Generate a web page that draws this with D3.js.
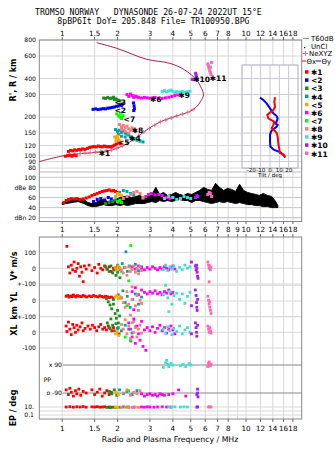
<!DOCTYPE html>
<html><head><meta charset="utf-8">
<style>body{margin:0;background:#fff}</style>
</head><body>
<svg width="335" height="451"></svg>
<script src="https://d3js.org/d3.v7.min.js"></script>
<script>
// ---- data ----
const freqTicks = [1, 1.5, 2, 3, 4, 5, 6, 7, 8, 10, 12, 14, 16, 18];
const freqTicksMid = [1, 1.5, 2, 3, 4, 5, 6, 7, 8, 9, 10, 12, 14, 16, 18];
const heightTicks = [800, 600, 400, 300, 200, 150, 120, 100, 90, 80];
const dbTicks = [100, 80, 60, 40, 20];
const dbLabels = ["100", "dBe 80", "60", "40", "dBn 20"];
const tiltTicks = [-20, -10, 0, 10, 20];

const seriesNames = ["✱1", "<2", "<3", "✱4", "<5", "✱6", "<7", "✱8", "✱9", "✱10", "✱11"];
const seriesColors = ["#ff0000", "#0000ff", "#208b20", "#00a0a0", "#ffa500", "#ff00ff", "#00ff00", "#f08080", "#40e0d0", "#a020f0", "#ff69b4"];

// real-height profile (MHz, km)
const profileF = [0.75, 1.06, 1.60, 1.98, 2.43, 2.88, 3.40, 3.85, 4.36, 4.94, 5.38, 5.65, 5.87, 5.72, 5.38, 4.64, 3.85, 2.88, 1.98, 1.54];
const profileH = [90, 101, 107, 114, 133, 159, 183, 196, 208, 221, 241, 264, 298, 336, 390, 467, 526, 566, 689, 762];
const neMarkF = [1.10, 1.17, 1.25, 1.33, 1.42, 1.52, 1.62, 1.73, 1.85, 1.98, 2.12, 2.27, 2.43, 2.60, 2.78, 2.98, 3.19, 3.42, 3.66, 3.92, 4.20, 4.50, 4.82, 5.15];
const neMarkH = [102, 103, 104, 105, 106, 107, 108, 109, 111, 114, 119, 126, 133, 142, 153, 163, 173, 184, 190, 197, 204, 211, 218, 229];

// tilt profiles (deg, km)
const tiltXDeg = [5.4, 4.6, 5.4, 3.6, 0, -2.9, -1.8, 1.1, 4.6, 3.6, 1.8, 4.6, 7.1, 8.2, 8.9, 10, 10.7, 13.2, 15.3, 16.1];
const tiltXH = [286, 264, 241, 227, 217, 208, 196, 190, 184, 174, 164, 157, 151, 141, 125, 112, 105, 103, 101, 97];
const tiltYDeg = [-10.7, -7.1, -3.6, 0, 3.6, 7.1, 8.2, 7.1, 5.4, 8.2, 7.1, 2.5, 1.1, 0, 0, 0.4, 3.6, 7.1, 10.7, 14.3, 16.1];
const tiltYH = [284, 272, 256, 234, 214, 204, 196, 184, 179, 174, 168, 159, 154, 145, 129, 118, 112, 109, 107, 102, 97];

// echo heights per series [MHz, km]
const echoHeight = [
  [[1.04,99],[1.07,100],[1.10,101],[1.13,99],[1.16,101],[1.19,100],[1.08,108],[1.11,110],[1.14,109],[1.17,111],[1.20,110],[1.23,112],[1.26,111],[1.29,113],[1.33,112],[1.37,114],[1.41,116],[1.45,117],[1.49,118],[1.53,117],[1.57,119],[1.61,118],[1.65,117],[1.69,119],[1.73,118],[1.77,117],[1.81,118],[1.85,117],[1.89,119],[1.93,121],[1.97,123],[2.01,126],[2.04,128],[2.07,124]],
  [[1.47,230],[1.52,232],[1.57,229],[1.62,231],[1.67,233],[1.72,232],[1.77,235],[1.82,236],[1.87,238],[1.92,240],[1.97,243],[2.02,244],[2.06,250],[2.10,247],[2.12,252],[2.44,258],[2.46,245],[2.47,233],[2.45,225]],
  [[1.68,282],[1.72,280],[1.77,285],[1.82,279],[1.86,282],[1.90,286],[1.95,278],[1.98,273],[2.02,271],[2.06,268],[1.92,274]],
  [[1.95,160],[2.00,155],[2.05,158],[2.10,152],[2.15,156],[2.20,150],[2.25,148],[2.30,145],[2.35,140],[2.40,137],[2.45,135],[2.55,132],[2.65,130],[2.75,128],[2.02,147],[2.10,142],[2.20,140]],
  [[1.93,140],[1.97,137],[2.01,135],[2.04,132],[1.96,130],[2.00,142]],
  [[2.25,300],[2.30,290],[2.35,303],[2.40,295],[2.45,285],[2.50,292],[2.55,288],[2.60,285],[2.70,282],[2.80,285],[2.90,283],[3.00,281],[3.10,282],[3.20,285],[3.35,280],[3.50,280],[3.65,283],[3.80,286],[3.95,290],[4.10,295],[4.25,298],[4.40,300]],
  [[1.98,212],[2.02,205],[2.06,200],[2.10,195],[2.14,205],[2.08,215]],
  [[2.05,175],[2.10,168],[2.15,172],[2.20,165],[2.25,170],[2.30,162],[2.35,158],[2.40,165],[2.45,160],[2.50,155],[2.20,155],[2.30,150],[2.10,160]],
  [[3.50,318],[3.60,322],[3.70,315],[3.80,320],[3.90,325],[4.00,318],[4.10,312],[4.20,316],[4.35,314],[4.50,318],[4.65,312],[4.80,316],[4.95,318]],
  [[5.32,440],[5.35,425],[5.38,410],[5.40,400],[5.42,392],[5.10,395],[5.20,392]],
  [[6.20,520],[6.25,500],[6.30,480],[6.35,460],[6.40,445],[6.45,430],[6.40,490],[6.50,535]]
];
// echo labels [MHz, km]
const echoMarkF = [1.64, 2.0, 2.0, 2.40, 2.09, 3.12, 2.24, 2.48, 4.46, 5.36, 6.6];
const echoMarkH = [105, 226, 264, 137, 127, 276, 192, 159, 297, 394, 406];

// noise / T60dB amplitude band (MHz, dB low, dB high)
const ampF = [1.0,1.05,1.13,1.22,1.31,1.38,1.45,1.52,1.6,1.68,1.77,1.86,1.96,2.06,2.16,2.27,2.39,2.51,2.64,2.78,2.92,3.07,3.23,3.39,3.56,3.74,3.94,4.14,4.35,4.58,4.81,5.06,5.32,5.59,5.88,6.18,6.5,6.83,7.18,7.55,7.94,8.35,8.78,9.23,9.7,10.2,10.7,11.3,11.8,12.4,13.1,13.8,14.5,14.9];
const ampLo = [46,48,50,52,48,44,42,42,44,46,44,44,46,44,46,44,46,48,48,48,50,52,50,54,52,54,52,54,56,54,54,50,54,54,52,50,48,50,52,50,52,50,48,50,48,46,46,44,44,42,42,40,40,40];
const ampHi = [50,52,56,58,56,50,48,50,54,56,52,54,56,60,62,62,60,62,64,60,62,66,80,66,70,64,66,70,66,64,68,66,70,74,80,76,74,88,80,74,78,76,72,86,74,70,68,66,64,68,64,62,52,44];
// echo amplitudes per series [MHz, dB]
const echoAmp = [
  [[1.02,50],[1.05,54],[1.08,56],[1.12,58],[1.16,57],[1.20,58],[1.25,56],[1.30,57],[1.35,59],[1.40,61],[1.45,64],[1.50,66],[1.55,68],[1.60,70],[1.65,72],[1.70,73],[1.75,74],[1.80,75],[1.85,73],[1.90,74],[1.95,72],[2.00,70],[2.05,66]],
  [[1.48,52],[1.55,56],[1.62,58],[1.70,55],[1.78,60],[1.85,57]],
  [[1.72,48],[1.80,50],[1.88,52],[1.95,55],[2.02,50]],
  [[2.05,70],[2.15,74],[2.25,72],[2.35,68],[2.45,65]],
  [[1.95,62],[2.00,68],[2.05,66],[2.10,64]],
  [[2.75,58],[2.85,62],[2.95,66],[3.05,68],[3.20,65],[3.35,66],[3.50,64],[3.70,60],[3.85,58],[4.00,60]],
  [[2.00,52],[2.06,55],[2.10,50]],
  [[2.15,58],[2.25,62],[2.35,66],[2.45,70],[2.55,72],[2.65,68],[2.75,60]],
  [[3.60,58],[3.80,62],[4.00,60],[4.20,56],[4.40,58],[4.60,62],[4.80,60],[5.00,58]],
  [[5.30,60],[5.40,64],[5.48,62]],
  [[6.20,66],[6.30,70],[6.40,68],[6.50,62]]
];

// Doppler V* (m/s), YL and XL (km) per series
const echoV = [
  [[1.06,140],[1.08,10],[1.10,-30],[1.12,20],[1.14,-10],[1.16,40],[1.18,-20],[1.20,0],[1.22,30],[1.24,-50],[1.26,10],[1.28,-25],[1.30,-85],[1.32,15],[1.35,-5],[1.40,20],[1.45,-15],[1.50,5],[1.55,-30],[1.58,25],[1.62,0],[1.66,-10],[1.70,15],[1.75,-5],[1.80,10],[1.85,-20],[1.90,0],[1.95,5]],
  [],
  [[1.72,10],[1.76,-5],[1.80,-20],[1.84,15],[1.88,-30],[1.92,-10],[1.96,-45],[2.00,-25],[2.04,5],[2.06,-60]],
  [[2.00,20],[2.06,-10],[2.12,30],[2.18,5],[2.22,105],[2.26,-20],[2.32,15],[2.40,-5],[2.50,25],[2.60,-15],[2.70,10]],
  [[1.94,5],[1.98,-10],[2.02,15],[2.06,0]],
  [[2.40,10],[2.50,-5],[2.60,15],[2.70,0],[2.80,-10],[2.90,5],[3.00,-5],[3.10,10],[3.20,0],[3.30,-10],[3.40,5],[3.50,-5],[3.60,10],[3.70,0],[3.80,-10],[3.90,5],[4.00,15],[4.10,-5]],
  [[2.36,145],[2.30,-80],[2.10,-20]],
  [[2.10,-10],[2.15,-30],[2.20,5],[2.25,-45],[2.30,10],[2.35,-20],[2.40,-5],[2.45,15],[2.50,-25],[2.55,0],[2.60,-35],[2.65,10],[2.70,-15]],
  [[3.55,-10],[3.65,20],[3.75,-15],[3.85,10],[3.95,-5],[4.05,15],[4.20,-20],[4.35,5],[4.50,-10],[4.65,20],[4.80,0],[4.95,10]],
  [[5.05,40],[5.30,15],[5.35,-10],[5.40,0],[5.42,-25],[5.45,-50],[5.48,-64],[5.38,20]],
  [[6.20,40],[6.25,20],[6.30,0],[6.35,15],[6.40,-10],[6.45,5],[6.30,-86]]
];
const echoYL = [
  [[1.05,30],[1.07,35],[1.09,25],[1.11,32],[1.13,28],[1.15,38],[1.17,30],[1.19,26],[1.21,34],[1.24,30],[1.27,28],[1.30,36],[1.33,30],[1.36,25],[1.40,32],[1.44,28],[1.48,35],[1.52,30],[1.56,26],[1.60,33],[1.64,29],[1.68,24],[1.72,30],[1.76,27],[1.80,22],[1.85,25],[1.90,18]],
  [],
  [[1.74,15],[1.78,-5],[1.82,-25],[1.86,-50],[1.90,-20],[1.94,-80],[1.97,-110],[2.00,-60],[2.02,-140],[2.05,-95],[1.90,10]],
  [[2.02,40],[2.08,20],[2.14,65],[2.20,-10],[2.26,30],[2.34,-40],[2.42,10],[2.50,45],[2.60,-20],[2.70,25]],
  [[1.94,25],[1.98,35],[2.02,15],[2.06,30]],
  [[2.40,60],[2.50,85],[2.60,40],[2.70,70],[2.80,55],[2.90,45],[3.00,60],[3.10,50],[3.20,65],[3.30,45],[3.40,55],[3.50,40],[3.60,60],[3.70,50],[3.80,70],[3.90,45],[4.00,55],[2.45,-55]],
  [[2.10,20],[2.25,-30]],
  [[2.10,20],[2.15,-10],[2.20,-40],[2.25,60],[2.30,-20],[2.35,-90],[2.40,10],[2.45,-130],[2.50,-30],[2.55,35],[2.60,-60],[2.65,5],[2.70,-15],[2.40,90]],
  [[3.55,40],[3.65,100],[3.75,20],[3.85,60],[3.95,-20],[4.05,35],[4.20,50],[4.35,10],[4.50,45],[4.65,-15],[4.80,30],[4.95,55],[3.80,-68]],
  [[5.05,-30],[5.30,70],[5.35,35],[5.38,-10],[5.40,-40],[5.42,-60],[5.45,10]],
  [[6.20,30],[6.25,5],[6.30,-20],[6.35,-40],[6.40,-60],[6.45,-80],[6.35,-5]]
];
const echoXL = [
  [[1.05,40],[1.06,5],[1.08,65],[1.10,20],[1.12,-15],[1.14,50],[1.16,30],[1.18,0],[1.20,45],[1.22,15],[1.25,35],[1.28,60],[1.30,10],[1.33,25],[1.38,40],[1.42,20],[1.46,45],[1.50,30],[1.54,10],[1.58,35],[1.62,50],[1.66,20],[1.70,30],[1.74,15],[1.78,40],[1.82,25],[1.86,10],[1.90,30]],
  [],
  [[1.76,60],[1.80,30],[1.84,85],[1.88,45],[1.92,10],[1.96,55],[2.00,25],[2.04,-10],[2.36,-55]],
  [[2.02,30],[2.10,10],[2.20,45],[2.30,20],[2.40,-5],[2.50,35]],
  [[1.95,-10],[1.99,5],[2.03,-20]],
  [[2.30,60],[2.35,20],[2.40,-30],[2.45,85],[2.50,-70],[2.55,40],[2.60,-10],[2.65,-50],[2.70,70],[2.75,-90],[2.80,15],[2.85,-115],[2.90,30],[3.00,10],[3.10,35],[3.20,0],[3.30,25],[3.40,45],[3.50,10],[3.60,30],[3.70,-5],[3.80,20],[3.90,40],[4.00,15],[4.10,-10]],
  [[2.36,-50],[2.20,-30]],
  [[2.10,50],[2.15,20],[2.20,80],[2.25,-10],[2.30,40],[2.35,-40],[2.40,60],[2.45,0],[2.50,30],[2.55,-30],[2.60,20],[2.65,45],[2.70,-5]],
  [[3.55,20],[3.65,-5],[3.75,35],[3.85,10],[3.95,-15],[4.05,25],[4.20,5],[4.35,40],[4.50,-10],[4.65,15],[4.80,30],[4.95,0]],
  [[5.05,-10],[5.30,60],[5.35,30],[5.38,0],[5.40,-25],[5.45,45]],
  [[6.20,40],[6.25,20],[6.30,0],[6.35,30],[6.40,10],[6.45,-5]]
];
// polarisation PP (deg) and EP (deg) per series
const echoPP = [
  [[1.05,-70],[1.08,-100],[1.10,-60],[1.12,-85],[1.15,-110],[1.18,-75],[1.20,-95],[1.23,-65],[1.26,-105],[1.30,-80],[1.35,-90],[1.45,-70],[1.50,-100],[1.55,-85],[1.60,-65],[1.65,-110],[1.70,-90],[1.75,-75],[1.80,-100],[1.85,-85]],
  [],
  [[1.80,-80],[1.86,-95],[1.92,-70],[1.98,-105]],
  [[2.05,-70],[2.15,-95],[2.25,-80],[2.40,-100],[2.55,-75]],
  [[1.96,-85],[2.02,-100]],
  [[2.70,-95],[2.80,-110],[2.90,-100],[3.00,-95],[3.10,-105],[3.20,-100],[3.30,-110],[3.40,-95],[3.50,-100],[3.60,-105],[3.80,-100],[4.00,-95],[4.30,-70],[4.70,-110]],
  [[2.30,-75]],
  [[2.15,-90],[2.25,-70],[2.35,-105],[2.45,-85],[2.55,-95],[2.65,-75]],
  [[3.55,75],[3.65,105],[3.70,120],[3.75,95],[3.80,80],[3.90,100],[4.00,90],[4.40,85],[4.55,95],[4.70,80],[4.90,100],[5.00,90]],
  [[5.45,-65],[5.45,-90],[5.48,-115],[5.40,-100]],
  [[6.20,80],[6.25,100],[6.30,110],[6.35,90],[6.40,85],[6.45,95]]
];
const echoEP = [
  [[1.05,10],[1.10,12],[1.15,9],[1.20,11],[1.25,10],[1.30,13],[1.35,9],[1.45,11],[1.50,10],[1.55,12],[1.60,9],[1.65,10],[1.70,11],[1.80,10],[1.85,9]],
  [],
  [[1.75,8],[1.82,7],[1.90,9],[1.96,8]],
  [[2.05,9],[2.15,11],[2.30,10],[2.45,9]],
  [[1.95,10],[2.00,8]],
  [[2.70,10],[2.80,9],[2.90,11],[3.00,10],[3.15,9],[3.30,10],[3.50,11],[3.70,10],[3.90,9]],
  [[2.25,10]],
  [[2.10,8],[2.20,9],[2.30,7],[2.40,8],[2.50,9],[2.60,8]],
  [[3.80,11],[3.95,10],[4.10,11],[4.40,10],[4.60,11],[4.80,10]],
  [[5.40,9],[5.45,11]],
  [[6.25,10],[6.35,11],[6.45,10]]
];

// ---- scales ----
const svg = d3.select("svg");
const sans = "DejaVu Sans";
const x = d3.scaleLog().domain([0.75, 20.1]).range([39.3, 301.7]);
const yH = d3.scaleLog().domain([74.6, 800]).range([172, 40]);
const yDb = d3.scaleLinear().domain([20, 100]).range([217.7, 177.3]);
const xT = d3.scaleLinear().domain([-30, 30]).range([242, 298]);
const yV = d3.scaleLinear().domain([-100, 100]).range([284, 252.6]);
const yY = d3.scaleLinear().domain([-100, 100]).range([316.7, 285.3]);
const yX = d3.scaleLinear().domain([-100, 100]).range([348, 316.6]);
const yP = d3.scaleLinear().domain([-90, 90]).range([393, 365]);
const yE = d3.scaleLog().domain([0.1, 10]).range([415, 407]);
const L = 39.3, R = 301.7;

// ---- title ----
svg.append("text").attr("x", 35).attr("y", 14.5).attr("font-family", "DejaVu Sans Mono").attr("font-size", 8.2)
  .attr("xml:space", "preserve").text("TROMSO NORWAY   DYNASONDE 26-07-24 2022UT 15°E");
svg.append("text").attr("x", 57.3).attr("y", 23.5).attr("font-family", "DejaVu Sans Mono").attr("font-size", 8.2)
  .attr("xml:space", "preserve").text("8pBP6It DoY= 205.848 File= TR100950.BPG");

// ---- grids ----
const grid = svg.append("g").attr("stroke", "#d8d8d8").attr("stroke-width", 1);
freqTicks.forEach(f => {
  grid.append("line").attr("x1", x(f)).attr("x2", x(f)).attr("y1", 40).attr("y2", 221.5);
});
freqTicksMid.forEach(f => {
  grid.append("line").attr("x1", x(f)).attr("x2", x(f)).attr("y1", 237).attr("y2", 419);
});
heightTicks.forEach(h => {
  grid.append("line").attr("x1", L).attr("x2", R).attr("y1", yH(h)).attr("y2", yH(h));
});
dbTicks.forEach(d => {
  grid.append("line").attr("x1", L).attr("x2", R).attr("y1", yDb(d)).attr("y2", yDb(d))
    .attr("stroke", d == 20 ? "#b8b8e8" : "#c8c8c8");
});
[yV, yY, yX].forEach(s => [-100, 0, 100].forEach(v => {
  grid.append("line").attr("x1", L).attr("x2", R).attr("y1", s(v)).attr("y2", s(v));
}));
grid.append("line").attr("x1", 63).attr("x2", R).attr("y1", yP(90)).attr("y2", yP(90)).attr("stroke", "#888");
grid.append("line").attr("x1", 63).attr("x2", R).attr("y1", yP(-90)).attr("y2", yP(-90)).attr("stroke", "#888");
[10, 1, 0.1].forEach(e => {
  grid.append("line").attr("x1", L).attr("x2", R).attr("y1", yE(e)).attr("y2", yE(e));
});

// ---- frames ----
const frame = svg.append("g").attr("fill", "none").attr("stroke", "#888");
frame.append("rect").attr("x", L).attr("y", 40).attr("width", R - L).attr("height", 181.5);
frame.append("line").attr("x1", L).attr("x2", R).attr("y1", 172).attr("y2", 172).attr("stroke", "#bbb");
frame.append("rect").attr("x", L).attr("y", 237).attr("width", R - L).attr("height", 182);

// ---- frequency axes ----
const axT = svg.append("g").attr("font-family", sans).attr("font-size", 7.2).attr("text-anchor", "middle");
freqTicks.forEach(f => {
  axT.append("line").attr("x1", x(f)).attr("x2", x(f)).attr("y1", 37).attr("y2", 40).attr("stroke", "#666");
  axT.append("text").attr("x", x(f)).attr("y", 35.5).text(f);
  axT.append("line").attr("x1", x(f)).attr("x2", x(f)).attr("y1", 419).attr("y2", 422).attr("stroke", "#666");
  axT.append("text").attr("x", x(f)).attr("y", 431).text(f);
});
freqTicksMid.forEach(f => {
  axT.append("line").attr("x1", x(f)).attr("x2", x(f)).attr("y1", 221.5).attr("y2", 224).attr("stroke", "#666");
  axT.append("line").attr("x1", x(f)).attr("x2", x(f)).attr("y1", 234).attr("y2", 237).attr("stroke", "#666");
  axT.append("text").attr("x", x(f)).attr("y", 232).text(f);
});
svg.append("text").attr("x", 170).attr("y", 442).attr("text-anchor", "middle").attr("font-family", sans)
  .attr("font-size", 7.8).text("Radio and Plasma Frequency / MHz");

// ---- left axis labels ----
const axL = svg.append("g").attr("font-family", sans).attr("font-size", 6.1).attr("text-anchor", "end");
heightTicks.forEach(h => axL.append("text").attr("x", 36).attr("y", yH(h) + 2.2).text(h));
dbTicks.forEach((d, i) => axL.append("text").attr("x", 36).attr("y", yDb(d) + 2.2).text(dbLabels[i]));
[[yV(100), "100"], [yV(0), "0"], [yV(-100), "+-100"], [yY(0), "0"], [yY(-100), "+-100"], [yX(0), "0"], [yX(-100), "-100"]]
  .forEach(d => axL.append("text").attr("x", 36).attr("y", d[0] + 2.2).text(d[1]));
axL.append("text").attr("x", 62).attr("y", yP(90) + 2.2).text("x  90");
axL.append("text").attr("x", 62).attr("y", yP(-90) + 2.2).text("o -90");
axL.append("text").attr("x", 51).attr("y", 382).text("PP");
axL.append("text").attr("x", 34).attr("y", yE(10) + 2.2).text("10.");
axL.append("text").attr("x", 34).attr("y", yE(0.1) + 2.2).text("0.1");

function vlabel(t, cx, cy) {
  svg.append("text").attr("transform", `translate(${cx},${cy}) rotate(-90)`).attr("text-anchor", "middle")
    .attr("font-family", sans).attr("font-size", 8).attr("font-weight", "bold").text(t);
}
vlabel("R', R / km", 16, 80);
vlabel("V* m/s", 17, 266);
vlabel("YL", 17, 297);
vlabel("km", 17, 313);
vlabel("XL", 17, 330);
vlabel("EP / deg", 16, 408);

// ---- amplitude panel ----
svg.append("path").attr("fill", "#000").attr("stroke", "#000").attr("stroke-width", 1)
  .attr("d", d3.area().x(f => x(f)).y0((f, i) => yDb(ampLo[i])).y1((f, i) => yDb(ampHi[i]))(ampF));

// ---- echo points ----
function dots(list, sy, sz) {
  list.forEach((pts, s) => {
    svg.append("g").attr("fill", seriesColors[s]).selectAll("rect").data(pts).join("rect")
      .attr("x", d => x(d[0]) - sz / 2).attr("y", d => sy(d[1]) - sz / 2)
      .attr("width", sz).attr("height", sz);
  });
}
dots(echoAmp, yDb, 3);
dots(echoV, yV, 2.8);
dots(echoYL, yY, 2.8);
dots(echoXL, yX, 2.8);
dots(echoPP, yP, 2.8);
dots(echoEP, yE, 2.8);

// ---- profile ----
svg.append("path").attr("fill", "none").attr("stroke", "#a0204a").attr("stroke-width", 1)
  .attr("d", d3.line().curve(d3.curveCatmullRom).x(f => x(f)).y((f, i) => yH(profileH[i]))(profileF));
const plus = svg.append("g").attr("stroke", "#e07090").attr("stroke-width", 1);
neMarkF.forEach((f, i) => {
  const cx = x(f), cy = yH(neMarkH[i]);
  plus.append("line").attr("x1", cx - 2).attr("x2", cx + 2).attr("y1", cy).attr("y2", cy);
  plus.append("line").attr("x1", cx).attr("x2", cx).attr("y1", cy - 2).attr("y2", cy + 2);
});
dots(echoHeight, yH, 3);

// echo labels
const lab = svg.append("g").attr("font-family", sans).attr("font-size", 7.5).attr("font-weight", "bold");
echoMarkF.forEach((f, i) => {
  lab.append("text").attr("x", x(f) - 3).attr("y", yH(echoMarkH[i]) + 3).text(seriesNames[i]);
});

// ---- tilt inset ----
const ins = svg.append("g");
ins.append("rect").attr("x", xT(-30)).attr("y", 65).attr("width", xT(30) - xT(-30)).attr("height", 103)
  .attr("fill", "#fff").attr("stroke", "#aab");
tiltTicks.forEach(t => ins.append("line").attr("x1", xT(t)).attr("x2", xT(t)).attr("y1", 65).attr("y2", 168).attr("stroke", "#c8c8d0"));
heightTicks.filter(h => yH(h) > 65 && yH(h) < 168).forEach(h =>
  ins.append("line").attr("x1", xT(-30)).attr("x2", xT(30)).attr("y1", yH(h)).attr("y2", yH(h)).attr("stroke", "#c8c8d0"));
tiltTicks.forEach(t => ins.append("text").attr("x", xT(t)).attr("y", 172).attr("text-anchor", "middle")
  .attr("font-family", sans).attr("font-size", 5.5).text(t));
ins.append("text").attr("x", 270).attr("y", 177).attr("text-anchor", "middle").attr("font-family", sans)
  .attr("font-size", 5.5).text("Tilt / deg");
ins.append("path").attr("fill", "none").attr("stroke", "#0000ff").attr("stroke-width", 2)
  .attr("d", d3.line().x(t => xT(t)).y((t, i) => yH(tiltYH[i]))(tiltYDeg));
ins.append("path").attr("fill", "none").attr("stroke", "#ff0000").attr("stroke-width", 2)
  .attr("d", d3.line().x(t => xT(t)).y((t, i) => yH(tiltXH[i]))(tiltXDeg));

// ---- legend ----
const leg = svg.append("g").attr("font-family", sans).attr("font-size", 7);
leg.append("line").attr("x1", 303).attr("x2", 309).attr("y1", 38.5).attr("y2", 38.5).attr("stroke", "#888");
leg.append("text").attr("x", 311).attr("y", 41).text("T60dB");
leg.append("rect").attr("x", 304).attr("y", 47).attr("width", 1.2).attr("height", 1.2).attr("fill", "#000");
leg.append("text").attr("x", 311).attr("y", 48.5).text("UnCl");
leg.append("line").attr("x1", 303).attr("x2", 308).attr("y1", 53.5).attr("y2", 53.5).attr("stroke", "#e07090");
leg.append("line").attr("x1", 305.5).attr("x2", 305.5).attr("y1", 51).attr("y2", 56).attr("stroke", "#e07090");
leg.append("text").attr("x", 309).attr("y", 56).text("NeXYZ");
leg.append("line").attr("x1", 302).attr("x2", 306).attr("y1", 61).attr("y2", 61).attr("stroke", "#f00");
leg.append("text").attr("x", 306.5).attr("y", 63.5).text("Θx");
leg.append("line").attr("x1", 316).attr("x2", 321).attr("y1", 61).attr("y2", 61).attr("stroke", "#00f");
leg.append("text").attr("x", 321.5).attr("y", 63.5).text("Θy");
seriesNames.forEach((n, i) => {
  const yy = 72.7 + i * 8.13;
  leg.append("rect").attr("x", 305).attr("y", yy - 2.5).attr("width", 3.5).attr("height", 3.5).attr("fill", seriesColors[i]);
  leg.append("text").attr("x", 311).attr("y", yy + 2.5).attr("font-weight", "bold").attr("font-size", 7.5).text(n);
});
</script>
</body></html>
